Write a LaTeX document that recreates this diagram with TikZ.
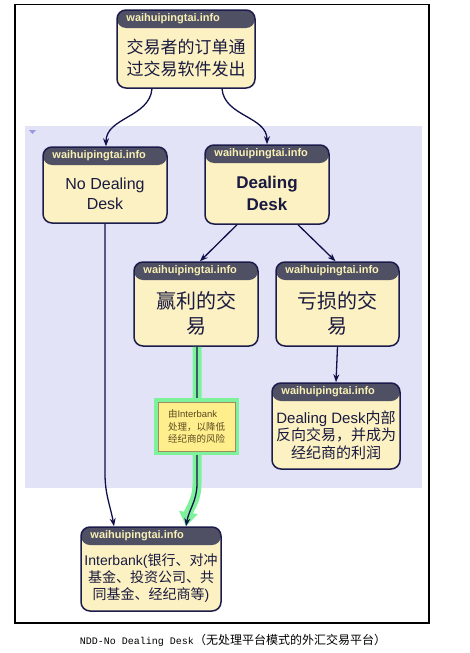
\documentclass[tikz,border=0pt]{standalone}
\usepackage{fontspec}
\setmainfont{Liberation Sans}
\newfontfamily\cjk{Noto Sans CJK SC}
\newfontfamily\captionmono{Liberation Mono}
\usetikzlibrary{arrows.meta, positioning, calc}
\definecolor{Lavender}{HTML}{E3E3F7}
\definecolor{TriBlue}{HTML}{9A9AE0}
\definecolor{CardFill}{HTML}{FBF1C2}
\definecolor{CardLine}{HTML}{1C1C4C}
\definecolor{Header}{HTML}{505064}
\definecolor{HdrText}{HTML}{F8F0B4}
\definecolor{TextNavy}{HTML}{1A1A40}
\definecolor{EdgeNavy}{HTML}{10104A}
\definecolor{HiGreen}{HTML}{7DF29B}
\definecolor{NoteFill}{HTML}{FFEF8C}
\definecolor{NoteLine}{HTML}{A08A60}
\definecolor{NoteText}{HTML}{5A4A20}

% card: [body font] name, position, width, height, text
\newcommand{\card}[6][]{%
  \node[card, minimum width=#4pt, minimum height=#5pt] (#2) at #3 {};
  \node[hdrtext] at ($(#2.north west)+(10,9)$) {waihuipingtai.info};
  \node[bodytext, #1] at ($(#2.center)+(0,9)$) {#6};
}

\begin{document}
\begin{tikzpicture}[
    x=1pt, y=-1pt,
    card/.style={rectangle, rounded corners=9pt, draw=CardLine, line width=1.5pt,
        fill=CardFill, inner sep=0pt,
        path picture={\fill[Header] (path picture bounding box.north west)
            rectangle ([yshift=-18pt]path picture bounding box.north east);}},
    hdrtext/.style={anchor=west, inner sep=0pt, text=HdrText,
        font=\fontsize{11}{12}\selectfont\bfseries},
    bodytext/.style={align=center, inner sep=0pt, text=TextNavy},
    edge/.style={draw=EdgeNavy, line width=1.3pt, -{Stealth[length=8pt, width=6pt]}},
    glow/.style={draw=HiGreen, line width=9pt, -{Triangle[length=14pt, width=18pt]}},
    note/.style={rectangle, fill=NoteFill, draw=NoteLine, line width=0.8pt,
        preaction={draw=HiGreen, line width=8pt},
        minimum width=77pt, minimum height=49pt, inner sep=0pt,
        text=NoteText, align=left, font=\fontsize{9.5}{12.5}\selectfont}
]
\useasboundingbox (0,0) rectangle (470,653);
\fill[white] (0,0) rectangle (470,653);

% frame and group area
\draw[line width=1.3pt] (15,4.5) rectangle (429,623);
\fill[Lavender] (25,126) rectangle (422,488);
\fill[TriBlue] (29,130) -- (36,130) -- (32.5,134) -- cycle;

% cards
\card[font=\cjk\fontsize{17}{22}\selectfont]{top}{(186,49)}{138}{78}{交易者的订单通\\过交易软件发出}
\card[font=\fontsize{16}{20}\selectfont]{nodeal}{(105,185)}{124}{76}{No Dealing\\Desk}
\card[font=\fontsize{17}{22}\selectfont\bfseries]{deal}{(267,184.5)}{124}{79}{Dealing\\Desk}
\card[font=\cjk\fontsize{20}{25}\selectfont]{win}{(196,304)}{124}{84}{赢利的交\\易}
\card[font=\cjk\fontsize{20}{25}\selectfont]{loss}{(337.5,304)}{123}{84}{亏损的交\\易}
\card[font=\fontsize{15}{17.5}\selectfont]{ddin}{(336,426)}{128}{86}{Dealing Desk{\cjk 内部}\\{\cjk 反向交易，并成为}\\{\cjk 经纪商的利润}}
\card[font=\fontsize{14}{17}\selectfont]{inter}{(151,569)}{140}{84}{Interbank({\cjk 银行、对冲}\\{\cjk 基金、投资公司、共}\\{\cjk 同基金、经纪商等})}

% connectors
\draw[edge] ($(top.south)+(-34,0)$) to[out=-95, in=90] ($(nodeal.north)+(1,0)$);
\draw[edge] ($(top.south)+(36,0)$) to[out=-85, in=90] (deal.north);
\draw[edge] ($(deal.south)+(-30,0)$) -- ($(win.north)+(4,0)$);
\draw[edge] ($(deal.south)+(31,0)$) -- ($(loss.north)+(-2,0)$);
\draw[edge] (loss.south) -- (ddin.north);
\draw[edge] (nodeal.south) -- ++(0,250) to[out=-90, in=100] ($(inter.north)+(-37,0)$);

% highlighted path through the note
\draw[glow] ($(win.south)+(1,0)$) -- ++(0,137) to[out=-90, in=80] ($(inter.north)+(35,0)$);
\draw[edge] ($(win.south)+(1,0)$) -- ++(0,137) to[out=-90, in=80] ($(inter.north)+(35,0)$);
\node[note] (risk) at (196.5,426.5) {{\cjk 由}Interbank\\{\cjk 处理，以降低}\\{\cjk 经纪商的风险}};

% caption
\node (caption) at (233,640) {{\captionmono\fontsize{10}{12}\selectfont NDD-No Dealing Desk}{\cjk\fontsize{12}{14}\selectfont （无处理平台模式的外汇交易平台）}};
\end{tikzpicture}
\end{document}
